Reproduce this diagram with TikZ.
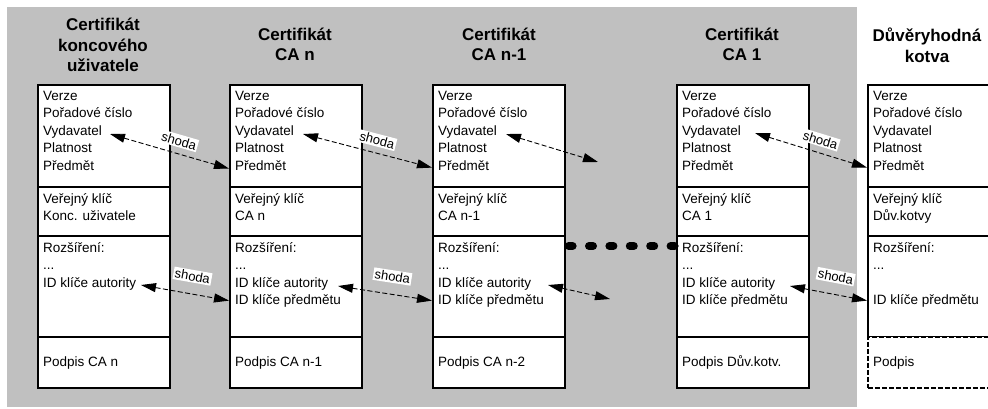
\documentclass[tikz,border=0pt]{standalone}
\usepackage{fontspec}
\setmainfont{Liberation Sans}
\usepackage{tikz}
\usetikzlibrary{arrows.meta}

\definecolor{panelgray}{RGB}{192,192,192}

\begin{document}
\begin{tikzpicture}[
    x=1pt, y=-1pt,
    certsec/.style={shape=rectangle, draw=black, fill=white, line width=1.6pt, minimum width=132pt, anchor=north west, inner sep=0pt},
    certfields/.style={anchor=north west, align=left, inner sep=0pt, font=\fontsize{13.5}{17.5}\selectfont, execute at begin node=\strut},
    certtitle/.style={align=center, inner sep=0pt, font=\fontsize{17}{20.5}\selectfont\bfseries},
    match/.style={{Triangle[length=15pt,width=9pt]}-{Triangle[length=15pt,width=9pt]}, line width=0.9pt, dash pattern=on 5pt off 2.5pt},
    shoda/.style={sloped, above=#1, pos=0.55, fill=white, inner sep=1.5pt, font=\fontsize{13}{15}\selectfont},
    shoda/.default=6pt,
    dotlink/.style={line width=8pt, line cap=round, dash pattern=on 4pt off 16.4pt},
]
\useasboundingbox (0,0) rectangle (988,408);
\clip (0,0) rectangle (988,408);
\fill[panelgray] (7,7) rectangle (857,407);

% titles
\node[certtitle] (t1) at (103,45) {Certifikát\\koncového\\uživatele};
\node[certtitle] (t2) at (295,44.5) {Certifikát\\CA n};
\node[certtitle] (t3) at (499,44.5) {Certifikát\\CA n-1};
\node[certtitle] (t4) at (742,44.5) {Certifikát\\CA 1};
\node[certtitle] (t5) at (927,45.5) {Důvěryhodná\\kotva};

% end user certificate
\node[certsec, minimum height=102pt] (a1) at (37,84) {};
\node[certsec, minimum height=49pt] (b1) at (37,186) {};
\node[certsec, minimum height=101pt] (c1) at (37,235) {};
\node[certsec, minimum height=51pt] (d1) at (37,336) {};
\node[certfields] (fa1) at (43,91) {Verze\\Pořadové číslo\\Vydavatel\\Platnost\\Předmět};
\node[certfields] (fb1) at (43,193) {Veřejný klíč\\Konc. uživatele};
\node[certfields] (fc1) at (43,242) {Rozšíření:\\...\\ID klíče autority};
\node[certfields] (fd1) at (43,354) {Podpis CA n};

% CA n
\node[certsec, minimum height=102pt] (a2) at (229,84) {};
\node[certsec, minimum height=49pt] (b2) at (229,186) {};
\node[certsec, minimum height=101pt] (c2) at (229,235) {};
\node[certsec, minimum height=51pt] (d2) at (229,336) {};
\node[certfields] (fa2) at (235,91) {Verze\\Pořadové číslo\\Vydavatel\\Platnost\\Předmět};
\node[certfields] (fb2) at (235,193) {Veřejný klíč\\CA n};
\node[certfields] (fc2) at (235,242) {Rozšíření:\\...\\ID klíče autority\\ID klíče předmětu};
\node[certfields] (fd2) at (235,354) {Podpis CA n-1};

% CA n-1
\node[certsec, minimum height=102pt] (a3) at (432,84) {};
\node[certsec, minimum height=49pt] (b3) at (432,186) {};
\node[certsec, minimum height=101pt] (c3) at (432,235) {};
\node[certsec, minimum height=51pt] (d3) at (432,336) {};
\node[certfields] (fa3) at (438,91) {Verze\\Pořadové číslo\\Vydavatel\\Platnost\\Předmět};
\node[certfields] (fb3) at (438,193) {Veřejný klíč\\CA n-1};
\node[certfields] (fc3) at (438,242) {Rozšíření:\\...\\ID klíče autority\\ID klíče předmětu};
\node[certfields] (fd3) at (438,354) {Podpis CA n-2};

% CA 1
\node[certsec, minimum height=102pt] (a4) at (676,84) {};
\node[certsec, minimum height=49pt] (b4) at (676,186) {};
\node[certsec, minimum height=101pt] (c4) at (676,235) {};
\node[certsec, minimum height=51pt] (d4) at (676,336) {};
\node[certfields] (fa4) at (682,91) {Verze\\Pořadové číslo\\Vydavatel\\Platnost\\Předmět};
\node[certfields] (fb4) at (682,193) {Veřejný klíč\\CA 1};
\node[certfields] (fc4) at (682,242) {Rozšíření:\\...\\ID klíče autority\\ID klíče předmětu};
\node[certfields] (fd4) at (682,354) {Podpis Dův.kotv.};

% trust anchor, open to the right
\node[certsec, minimum width=140pt, minimum height=102pt] (a5) at (867,84) {};
\node[certsec, minimum width=140pt, minimum height=49pt] (b5) at (867,186) {};
\node[certsec, minimum width=140pt, minimum height=101pt] (c5) at (867,235) {};
\node[certsec, minimum width=140pt, minimum height=51pt, dash pattern=on 5pt off 2pt] (d5) at (867,336) {};
\node[certfields] (fa5) at (873,91) {Verze\\Pořadové číslo\\Vydavatel\\Platnost\\Předmět};
\node[certfields] (fb5) at (873,193) {Veřejný klíč\\Dův.kotvy};
\node[certfields] (fc5) at (873,242) {Rozšíření:\\...\\[17.5pt]ID klíče předmětu};
\node[certfields] (fd5) at (873,354) {Podpis};

% chain gap
\draw[dotlink] ([xshift=3pt,yshift=-11pt]c3.north east) -- ([xshift=1pt,yshift=-11pt]c4.north west);

\coordinate (v1) at (110,134);
\coordinate (v2) at (303,134);
\coordinate (v3) at (506,134);
\coordinate (v3e) at (598,162);
\coordinate (v4) at (755,133);
\coordinate (i1) at (141,285);
\coordinate (i2) at (338,286);
\coordinate (i3) at (548,285);
\coordinate (i3e) at (610,299);
\coordinate (i4) at (790,286);

\path[match]
    (v1) edge node[shoda] {shoda} ([yshift=19pt]a2.south west)
    (v2) edge node[shoda] {shoda} ([yshift=20pt]a3.south west)
    (v3) edge (v3e)
    (v4) edge node[shoda] {shoda} ([yshift=20pt]a5.south west)
    (i1) edge node[shoda=11pt] {shoda} ([yshift=37pt]c2.south west)
    (i2) edge node[shoda=11pt] {shoda} ([yshift=37pt]c3.south west)
    (i3) edge (i3e)
    (i4) edge node[shoda=11pt] {shoda} ([yshift=37pt]c5.south west)
;
\end{tikzpicture}
\end{document}
